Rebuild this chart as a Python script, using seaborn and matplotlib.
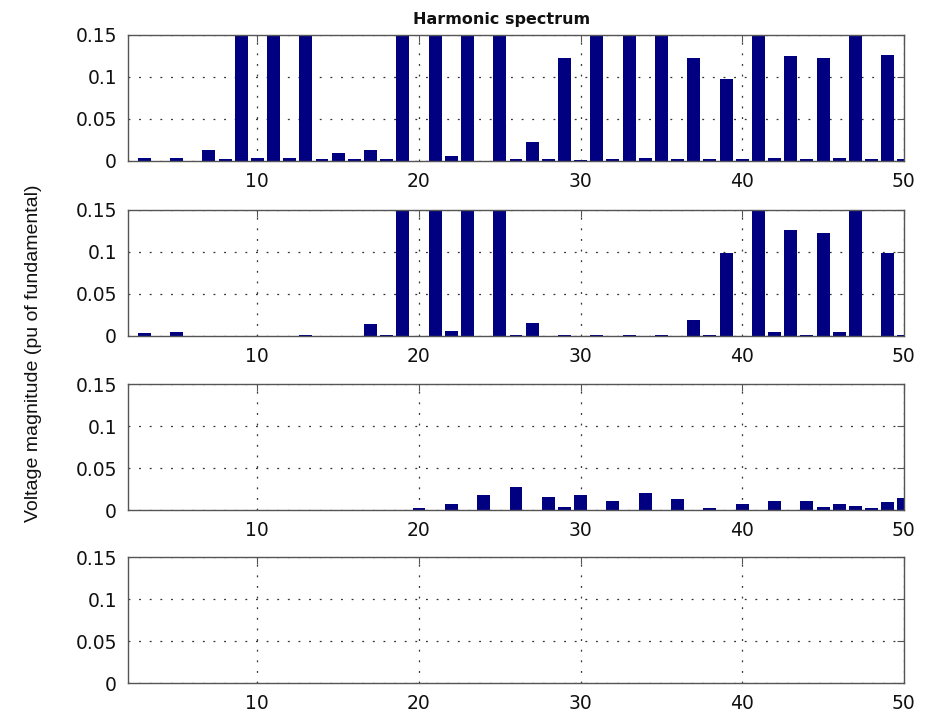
import numpy as np
import pandas as pd
import matplotlib
matplotlib.use("Agg")
import matplotlib.pyplot as plt
import seaborn as sns

# ==========================================
# Data (harmonic order 2..50, pu of fundamental)
# bars above 0.15 run off the top of the axes
# ==========================================
harmonics = list(range(2, 51))

spectrum_1 = [0, 0.003, 0, 0.003, 0, 0.0127, 0.002, 0.2, 0.003, 0.2,
              0.003, 0.2, 0.002, 0.0095, 0.002, 0.0127, 0.002, 0.2, 0, 0.2,
              0.006, 0.2, 0, 0.2, 0.002, 0.022, 0.002, 0.122, 0.001, 0.2,
              0.002, 0.2, 0.003, 0.2, 0.002, 0.123, 0.002, 0.097, 0.002, 0.2,
              0.003, 0.125, 0.002, 0.122, 0.003, 0.2, 0.002, 0.126, 0.002]

spectrum_2 = [0, 0.003, 0, 0.004, 0, 0, 0, 0, 0, 0,
              0, 0.001, 0, 0, 0, 0.0135, 0.001, 0.2, 0, 0.2,
              0.006, 0.2, 0, 0.2, 0.001, 0.0147, 0, 0.001, 0, 0.001,
              0, 0.001, 0, 0.001, 0, 0.0187, 0.001, 0.099, 0, 0.2,
              0.004, 0.126, 0.001, 0.123, 0.004, 0.2, 0, 0.098, 0.001]

spectrum_3 = [0, 0, 0, 0, 0, 0, 0, 0, 0, 0,
              0, 0, 0, 0, 0, 0, 0, 0, 0.002, 0,
              0.007, 0, 0.018, 0, 0.027, 0, 0.016, 0.003, 0.0175, 0,
              0.0103, 0, 0.0207, 0, 0.0127, 0, 0.002, 0, 0.007, 0,
              0.0107, 0, 0.0107, 0.003, 0.007, 0.005, 0.002, 0.01, 0.014]

spectrum_4 = [0] * len(harmonics)

spectra = [spectrum_1, spectrum_2, spectrum_3, spectrum_4]

yticks = [0, 0.05, 0.1, 0.15]
ytick_labels = ["0", "0.05", "0.1", "0.15"]
xticks = [10, 20, 30, 40, 50]

# ==========================================
# Style
# ==========================================
sns.set_style("white")
plt.rcParams['font.family'] = ['DejaVu Sans']

fig = plt.figure(figsize=(9.28, 7.14), dpi=100)
left, width, height = 0.138, 0.836, 0.176
bottoms = [0.775, 0.530, 0.2857, 0.0434]

axes = []
for b, vals in zip(bottoms, spectra):
    ax = fig.add_axes([left, b, width, height])
    df = pd.DataFrame({'harmonic': harmonics, 'magnitude': vals})
    sns.barplot(data=df, x='harmonic', y='magnitude', native_scale=True,
                color='#000080', saturation=1, width=0.8, linewidth=0,
                errorbar=None, ax=ax)
    ax.set_xlim(2, 50)
    ax.set_ylim(0, 0.15)
    ax.set_xticks(xticks)
    ax.set_yticks(yticks)
    ax.set_yticklabels(ytick_labels)
    ax.set_xlabel('')
    ax.set_ylabel('')
    ax.grid(True, linestyle=(0, (1.5, 7)), color='#333333', linewidth=0.9)
    ax.set_axisbelow(True)
    ax.tick_params(direction='in', top=True, right=True, length=5,
                   width=0.8, color='#555555', labelsize=13.5, pad=8,
                   labelcolor='#111111')
    for s in ax.spines.values():
        s.set_color('#555555')
        s.set_linewidth(1.0)
    axes.append(ax)

axes[0].set_title('Harmonic spectrum', fontsize=11.5, fontweight='bold',
                  pad=8, x=0.482, color='#111111')

fig.text(0.036, 0.505, 'Voltage magnitude (pu of fundamental)', rotation=90,
         ha='center', va='center', fontsize=14, color='#111111',
         family=['Liberation Sans Narrow', 'Liberation Sans', 'DejaVu Sans'])

fig.savefig('out.png', dpi=100, facecolor='white')
